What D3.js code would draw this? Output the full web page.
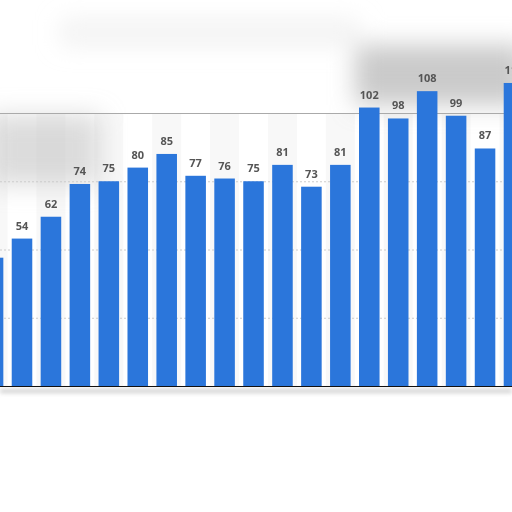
<!DOCTYPE html>
<html>
<head>
<meta charset="utf-8">
<script src="https://cdn.jsdelivr.net/npm/d3@7"></script>
<style>
  body { margin: 0; background: #fff; }
  svg { display: block; }
  .label { font-family: "Open Sans", "DejaVu Sans", sans-serif; font-size: 11px; font-weight: 700; fill: #555; }
</style>
</head>
<body>
<svg class="chart"></svg>
<script>
// data (first and last bars are cut by the frame)
var categories = d3.range(1, 20).map(function(d) { return "c" + d; });
var values = [47, 54, 62, 74, 75, 80, 85, 77, 76, 75, 81, 73, 81, 102, 98, 108, 99, 87, 111];
var gridTicks = [25, 50, 75, 100];

var width = 512, height = 512;
var step = 28.94;
var left = -6.94 - step / 2;

var svg = d3.select("svg.chart")
    .attr("width", width)
    .attr("height", height);

var x = d3.scaleBand()
    .domain(categories)
    .range([left, left + step * categories.length])
    .paddingInner(0.29)
    .paddingOuter(0.145);

var y = d3.scaleLinear()
    .domain([0, 100])
    .range([386, 113]);

// blur filter for the smudges
var defs = svg.append("defs");
defs.append("filter").attr("id", "blur")
    .attr("x", "-50%").attr("y", "-50%").attr("width", "200%").attr("height", "200%")
  .append("feGaussianBlur").attr("stdDeviation", 12);
defs.append("filter").attr("id", "blur2")
    .attr("x", "-20%").attr("y", "-200%").attr("width", "140%").attr("height", "500%")
  .append("feGaussianBlur").attr("stdDeviation", 2);

// faint column bands
svg.selectAll("rect.band")
    .data(categories.filter(function(d, i) { return i % 2 == 0; }))
  .enter().append("rect")
    .attr("class", "band")
    .attr("x", function(d) { return x(d) - x.step() * 0.145; })
    .attr("y", y(100))
    .attr("width", x.step())
    .attr("height", y(0) - y(100))
    .attr("fill", "#f8f8f8");

// smudges
var smudge = svg.append("g").attr("filter", "url(#blur)");
smudge.append("rect").attr("x", 355).attr("y", 45).attr("width", 170).attr("height", 60)
    .attr("fill", "#b8b8b8").attr("opacity", 0.75);
smudge.append("rect").attr("x", -10).attr("y", 115).attr("width", 110).attr("height", 70)
    .attr("fill", "#c4c4c4").attr("opacity", 0.6);
smudge.append("rect").attr("x", 60).attr("y", 20).attr("width", 300).attr("height", 25)
    .attr("fill", "#e6e6e6").attr("opacity", 0.5);

svg.append("rect")
    .attr("x", 0).attr("y", y(0) + 3).attr("width", width).attr("height", 4)
    .attr("fill", "#d0d0d0").attr("filter", "url(#blur2)");

// gridlines
svg.selectAll("line.grid")
    .data(gridTicks)
  .enter().append("line")
    .attr("class", "grid")
    .attr("x1", 0).attr("x2", width)
    .attr("y1", function(d) { return y(d) + 0.5; })
    .attr("y2", function(d) { return y(d) + 0.5; })
    .attr("stroke", function(d) { return d == 100 ? "#aaa" : "#ccc"; })
    .attr("stroke-width", 1)
    .attr("stroke-dasharray", function(d) { return d == 100 ? null : "2,2"; });

// bars
svg.selectAll("rect.bar")
    .data(values)
  .enter().append("rect")
    .attr("class", "bar")
    .attr("x", function(d, i) { return x(categories[i]); })
    .attr("y", function(d) { return y(d); })
    .attr("width", x.bandwidth())
    .attr("height", function(d) { return y(0) - y(d); })
    .attr("fill", "#2b76db");

// value labels
svg.selectAll("text.label")
    .data(values)
  .enter().append("text")
    .attr("class", "label")
    .attr("text-anchor", "middle")
    .attr("x", function(d, i) { return x(categories[i]) + x.bandwidth() / 2; })
    .attr("y", function(d) { return y(d) - 9; })
    .text(function(d) { return d; });

// baseline
svg.append("line")
    .attr("x1", 0).attr("x2", width)
    .attr("y1", y(0) + 0.5).attr("y2", y(0) + 0.5)
    .attr("stroke", "#111")
    .attr("stroke-width", 1.2);
</script>
</body>
</html>
